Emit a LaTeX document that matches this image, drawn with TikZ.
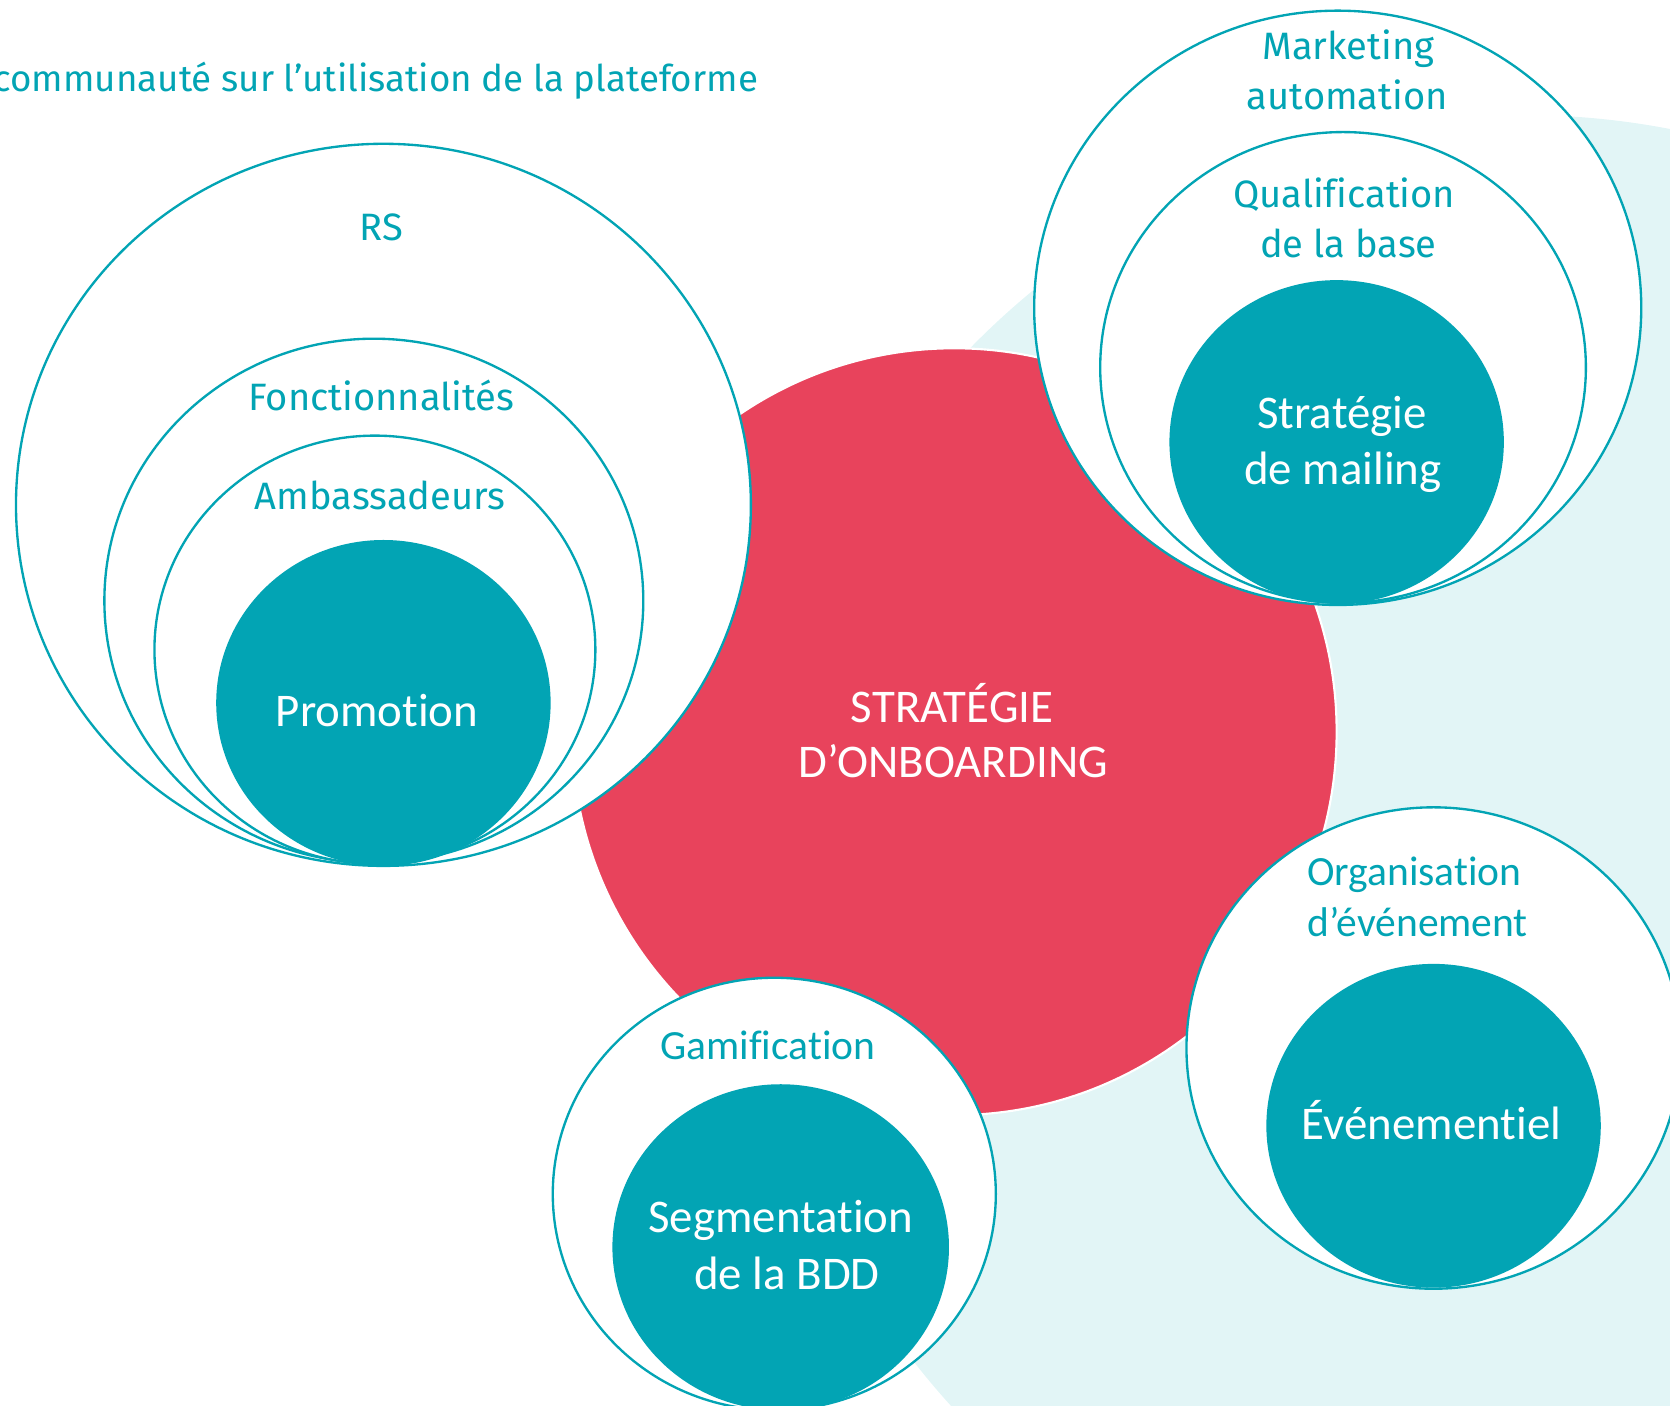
\documentclass[tikz,border=0pt]{standalone}
\usepackage{fontspec}
\setmainfont{Carlito}[Ligatures=NoCommon]
\newfontfamily\ubu{Fira Sans}[Ligatures=NoCommon]
\definecolor{tl}{RGB}{2,164,180}
\definecolor{rd}{RGB}{232,67,92}
\definecolor{lt}{RGB}{226,245,246}
\begin{document}
\begin{tikzpicture}[x=1pt,y=-1pt,
 ring/.style={draw=tl,fill=white,line width=2.2pt},
 core/.style={fill=tl},
 lab/.style={text=tl,font=\fontsize{39}{46}\selectfont,anchor=base,inner sep=0pt},
 ulab/.style={text=tl,font=\ubu\fontsize{35.8}{40}\selectfont,anchor=base,inner sep=0pt},
 wlab/.style={text=white,font=\fontsize{44}{52}\selectfont,anchor=base,inner sep=0pt}]
\useasboundingbox (0,0) rectangle (1568,1320);
\clip (0,0) rectangle (1568,1320);
% background
\fill[lt] (1430,833) circle (725);
\path[fill=rd,draw=white,line width=2pt] (896,687) ellipse (359 and 360);
% left group
\path[ring] (360,474) ellipse (345 and 339);
\path[ring] (351,564) ellipse (253 and 246);
\path[ring] (352,610) ellipse (207 and 201);
\path[core] (360,660) ellipse (157 and 153);
% top right group
\path[ring] (1256,289) ellipse (285 and 279);
\path[ring] (1261,345) ellipse (228 and 221);
\path[core] (1255,415) ellipse (157 and 152);
% bottom group
\path[ring] (727,1121) ellipse (208 and 203);
\path[core] (733,1171) ellipse (158 and 153);
% right group
\path[ring] (1346,984) ellipse (232 and 226);
\path[core] (1346,1057) ellipse (157 and 152);
% texts
\node[ulab,font=\ubu\fontsize{34.5}{40}\selectfont,anchor=base east] (title) at (712,86) {communauté sur l’utilisation de la plateforme};
\node[ulab] (rs) at (358,226) {RS};
\node[ulab] (fonc) at (358,385) {Fonctionnalités};
\node[ulab] (amb) at (357,478) {Ambassadeurs};
\node[wlab] (promo) at (354,682) {Promotion};
\node[ulab] (mk1) at (1266,56) {Marketing};
\node[ulab] (mk2) at (1265,103) {automation};
\node[ulab] (q1) at (1262,195) {Qualification};
\node[ulab] (q2) at (1266,242) {de la base};
\node[wlab] (s1) at (1260,402) {Stratégie};
\node[wlab] (s2) at (1261,455) {de mailing};
\node[wlab] (c1) at (894,678) {STRATÉGIE};
\node[wlab] (c2) at (895,730) {D’ONBOARDING};
\node[lab] (o1) at (1328,831) {Organisation};
\node[lab] (o2) at (1331,879) {d’événement};
\node[wlab] (ev) at (1344,1070) {Événementiel};
\node[lab] (gam) at (721,995) {Gamification};
\node[wlab] (seg1) at (733,1157) {Segmentation};
\node[wlab] (seg2) at (739,1211) {de la BDD};
\end{tikzpicture}
\end{document}
